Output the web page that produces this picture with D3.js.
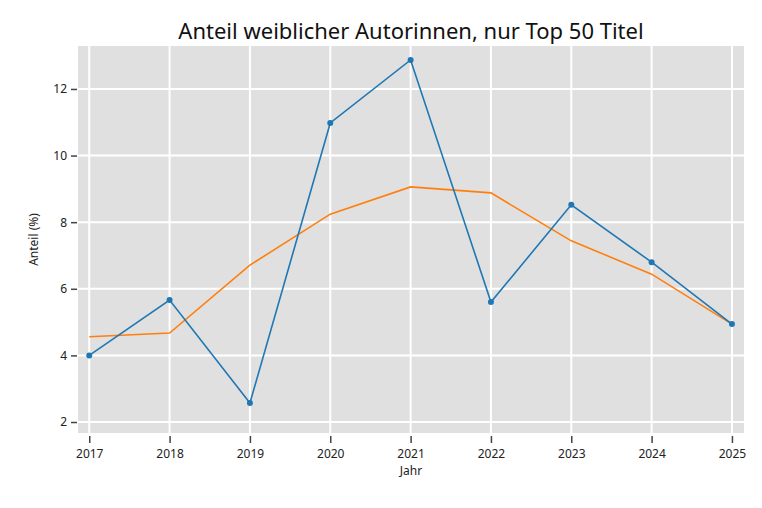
<!DOCTYPE html>
<meta charset="utf-8">
<style>
  body { margin: 0; background: #fff; }
  text { font-family: "Source Sans Pro", "Noto Sans", sans-serif; }
</style>
<script src="https://d3js.org/d3.v7.min.js"></script>
<svg id="chart" width="762" height="508"></svg>
<script>
  // data
  var years = [2017, 2018, 2019, 2020, 2021, 2022, 2023, 2024, 2025];
  var anteil = [4.0, 5.66, 2.57, 10.98, 12.87, 5.6, 8.52, 6.8, 4.94];
  var trend = [4.56, 4.67, 6.71, 8.24, 9.06, 8.88, 7.44, 6.44, 4.94];
  var yTicks = [2, 4, 6, 8, 10, 12];

  var svg = d3.select("svg");
  var plotL = 78, plotR = 744, plotT = 46, plotB = 433;

  var x = d3.scaleLinear().domain([2016.86, 2025.15]).range([plotL, plotR]);
  var y = d3.scaleLinear().domain([1.67, 13.29]).range([plotB, plotT]);

  // background + grid
  svg.append("rect")
    .attr("x", plotL).attr("y", plotT)
    .attr("width", plotR - plotL).attr("height", plotB - plotT)
    .attr("fill", "#e0e0e0");

  svg.append("g").selectAll("line").data(years).enter().append("line")
    .attr("x1", d => x(d)).attr("x2", d => x(d))
    .attr("y1", plotT).attr("y2", plotB)
    .attr("stroke", "#fff").attr("stroke-width", 2);

  svg.append("g").selectAll("line").data(yTicks).enter().append("line")
    .attr("x1", plotL).attr("x2", plotR)
    .attr("y1", d => y(d)).attr("y2", d => y(d))
    .attr("stroke", "#fff").attr("stroke-width", 2);

  // axes
  var xAxis = svg.append("g")
    .attr("transform", "translate(0," + (plotB + 3) + ")")
    .call(d3.axisBottom(x).tickValues(years).tickFormat(d3.format("d")).tickSize(7).tickPadding(6));
  var yAxis = svg.append("g")
    .attr("transform", "translate(" + (plotL - 1) + ",0)")
    .call(d3.axisLeft(y).tickValues(yTicks).tickSize(6).tickPadding(4));

  [xAxis, yAxis].forEach(function(a) {
    a.select(".domain").remove();
    a.selectAll("line").attr("stroke", "#444").attr("stroke-width", 1.5);
    a.selectAll("text").attr("font-size", 12).attr("fill", "#222")
      .style("font-family", "'Noto Sans', sans-serif");
  });

  // lines
  var line = d3.line().x((d, i) => x(years[i])).y(d => y(d));

  svg.append("path").datum(trend)
    .attr("d", line).attr("fill", "none")
    .attr("stroke", "#ff7f0e").attr("stroke-width", 1.6);

  svg.append("path").datum(anteil)
    .attr("d", line).attr("fill", "none")
    .attr("stroke", "#1f77b4").attr("stroke-width", 1.6);

  svg.append("g").selectAll("circle").data(anteil).enter().append("circle")
    .attr("cx", (d, i) => x(years[i])).attr("cy", d => y(d))
    .attr("r", 3).attr("fill", "#1f77b4");

  // labels
  svg.append("text")
    .attr("x", 411).attr("y", 39)
    .attr("text-anchor", "middle")
    .attr("font-size", 22).attr("fill", "#111")
    .text("Anteil weiblicher Autorinnen, nur Top 50 Titel");

  svg.append("text")
    .attr("x", 411).attr("y", 475)
    .attr("text-anchor", "middle")
    .attr("font-size", 12).attr("fill", "#222")
    .text("Jahr");

  svg.append("text")
    .attr("transform", "translate(38," + ((plotT + plotB) / 2) + ") rotate(-90)")
    .attr("text-anchor", "middle")
    .attr("font-size", 12).attr("fill", "#222")
    .text("Anteil (%)");
</script>
